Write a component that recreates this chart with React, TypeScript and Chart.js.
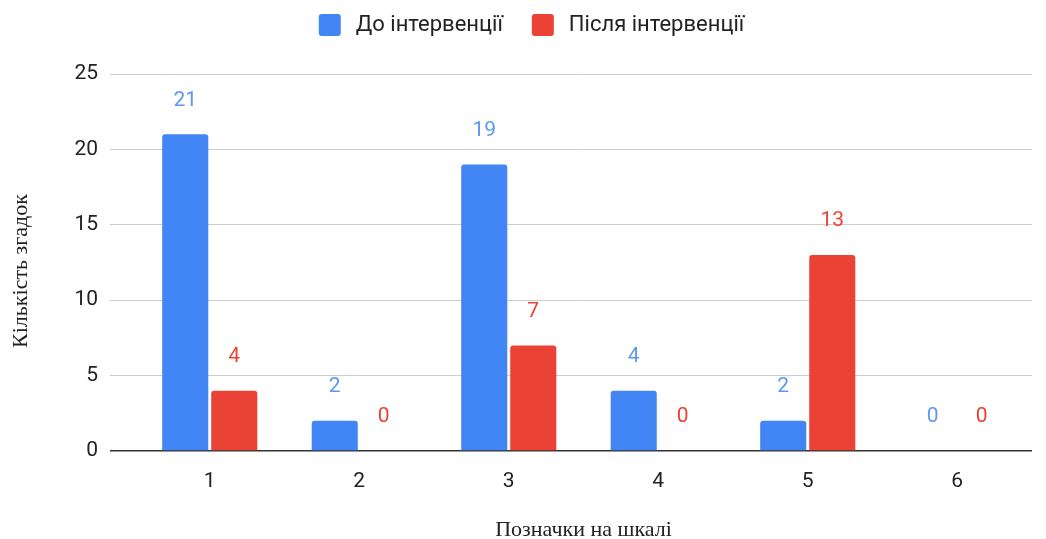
import React, { useEffect, useRef } from "react";
import { Chart, registerables } from "chart.js";

Chart.register(...registerables);

const categories = ["1", "2", "3", "4", "5", "6"];
const beforeValues = [21, 2, 19, 4, 2, 0];
const afterValues = [4, 0, 7, 0, 13, 0];
const seriesNames = ["До інтервенції", "Після інтервенції"];
const yTitle = "Кількість згадок";
const xTitle = "Позначки на шкалі";

const BLUE = "#4285F4";
const RED = "#EA4335";
const FONT = "Roboto";

const valueLabels = {
  id: "valueLabels",
  afterDatasetsDraw(chart: any) {
    const ctx = chart.ctx;
    ctx.save();
    ctx.font = `21px ${FONT}`;
    ctx.textAlign = "center";
    ctx.textBaseline = "middle";
    chart.data.datasets.forEach((ds: any, di: number) => {
      const meta = chart.getDatasetMeta(di);
      ctx.fillStyle = ds.labelColor;
      meta.data.forEach((el: any, i: number) => {
        ctx.fillText(String(ds.data[i]), el.x, el.y - 34);
      });
    });
    ctx.restore();
  },
};

const yAxisTitle = {
  id: "yAxisTitle",
  afterDraw(chart: any) {
    const ctx = chart.ctx;
    ctx.save();
    ctx.font = `22px "Liberation Serif"`;
    ctx.fillStyle = "#222";
    ctx.textAlign = "center";
    ctx.textBaseline = "middle";
    ctx.translate(21, 271);
    ctx.rotate(-Math.PI / 2);
    ctx.fillText(yTitle, 0, 0);
    ctx.restore();
  },
};

const topLegend = {
  id: "topLegend",
  afterDraw(chart: any) {
    const ctx = chart.ctx;
    ctx.save();
    ctx.font = `22px ${FONT}`;
    ctx.textBaseline = "middle";
    ctx.textAlign = "left";
    const box = 22;
    const gap = 15;
    const itemGap = 29;
    const items = chart.data.datasets.map((ds: any) => ({
      text: ds.label,
      color: ds.backgroundColor,
      w: ctx.measureText(ds.label).width,
    }));
    let total = 0;
    items.forEach((it: any, i: number) => {
      total += box + gap + it.w + (i > 0 ? itemGap : 0);
    });
    let x = 531.5 - total / 2;
    const cy = 25;
    items.forEach((it: any) => {
      ctx.fillStyle = it.color;
      ctx.beginPath();
      (ctx as any).roundRect(x, cy - box / 2, box, box, 3);
      ctx.fill();
      x += box + gap;
      ctx.fillStyle = "#222";
      ctx.fillText(it.text, x, cy);
      x += it.w + itemGap;
    });
    ctx.restore();
  },
};

export default function App() {
  const ref = useRef<HTMLCanvasElement>(null);
  useEffect(() => {
    if (!ref.current) return;
    const chart = new Chart(ref.current, {
      type: "bar",
      data: {
        labels: categories,
        datasets: [
          {
            label: seriesNames[0],
            data: beforeValues,
            backgroundColor: BLUE,
            borderRadius: { topLeft: 3, topRight: 3 },
            borderSkipped: "bottom",
            labelColor: "#5E97F6",
          } as any,
          {
            label: seriesNames[1],
            data: afterValues,
            backgroundColor: RED,
            borderRadius: { topLeft: 3, topRight: 3 },
            borderSkipped: "bottom",
            labelColor: "#EA4335",
          } as any,
        ],
      },
      options: {
        animation: false,
        responsive: false,
        maintainAspectRatio: false,
        layout: { padding: { top: 74, right: 14, left: 0, bottom: 0 } },
        datasets: {
          bar: { categoryPercentage: 0.656, barPercentage: 0.94 },
        },
        plugins: {
          tooltip: { enabled: false },
          legend: { display: false },
        },
        scales: {
          x: {
            grid: { display: false },
            border: { display: false },
            ticks: { font: { family: FONT, size: 21 }, color: "#222", padding: 10 },
            title: {
              display: true,
              text: xTitle,
              font: { family: "Liberation Serif", size: 22 },
              color: "#222",
              padding: { top: 26, bottom: -4 },
            },
            afterFit(scale: any) {
              scale.height = 88;
            },
          },
          y: {
            min: 0,
            max: 25,
            ticks: { stepSize: 5, font: { family: FONT, size: 21 }, color: "#222", padding: 12 },
            grid: {
              color: (c: any) => (c.tick && c.tick.value === 0 ? "#333" : "#CCCCCC"),
              tickColor: (c: any) => (c.tick && c.tick.value === 0 ? "#333" : "#CCCCCC"),
              lineWidth: (c: any) => (c.tick && c.tick.value === 0 ? 1.5 : 1),
              tickLength: 25,
              drawTicks: true,
            },
            border: { display: false },
            title: { display: false },
            afterFit(scale: any) {
              scale.width = 135;
            },
          },
        },
      },
      plugins: [valueLabels, topLegend, yAxisTitle],
    });
    return () => chart.destroy();
  }, []);
  return (
    <div style={{ position: "fixed", left: 0, top: 0, width: 1046, height: 539, background: "#fff" }}>
      <canvas ref={ref} width={1046} height={539} style={{ width: 1046, height: 539 }} />
    </div>
  );
}
